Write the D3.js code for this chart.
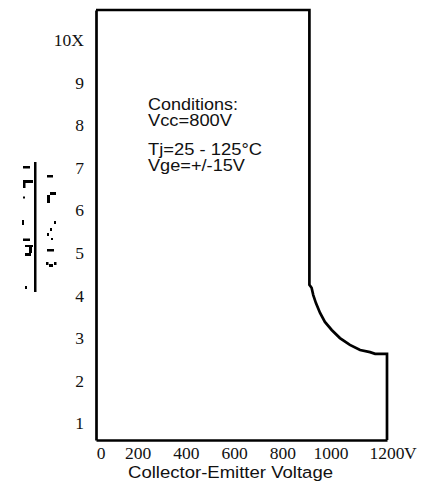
<!DOCTYPE html>
<html>
<head>
<meta charset="utf-8">
<script src="https://cdn.jsdelivr.net/npm/d3@7"></script>
<style>
  body { margin: 0; background: #fff; }
  svg { display: block; }
</style>
</head>
<body>
<div id="main"></div>
<script>

// safe operating area boundary
var voltage = [0, 880, 880, 889, 896, 907, 924, 944, 972, 1006, 1047, 1089, 1130, 1151, 1200, 1200];
var current = [10.7, 10.7, 4.25, 4.18, 4.01, 3.82, 3.59, 3.38, 3.19, 3.00, 2.84, 2.72, 2.67, 2.63, 2.63, 0.608];

var yTicks = [1, 2, 3, 4, 5, 6, 7, 8, 9, 10];
var xTicks = [0, 200, 400, 600, 800, 1000, 1200];

var conditions = ["Conditions:", "Vcc=800V", "Tj=25 - 125\u00B0C", "Vge=+/-15V"];

var w = 433;
var h = 491;

window.onload = function () {

  var svg = d3.select("#main").append("svg")
      .attr("width", w)
      .attr("height", h);

  // scales
  var x = d3.scaleLinear().domain([0, 1200]).range([96, 387]);
  var y = d3.scaleLinear().domain([0.608, 10.70]).range([440, 10]);
  // the middle tick labels sit a bit off the plot scale in the original
  var xLab = d3.scaleLinear().domain([200, 1000]).range([138, 331]);

  // y axis
  var yAxis = svg.append("g")
      .attr("transform", "translate(" + x(0) + ",0)")
      .call(d3.axisLeft(y)
        .tickValues(yTicks)
        .tickSize(0)
        .tickPadding(12)
        .tickFormat(function (d) { return d === 10 ? "10X" : d; }));
  yAxis.select(".domain").attr("stroke", "#000").attr("stroke-width", 2.7);
  yAxis.selectAll("text")
      .attr("font-family", "'Liberation Serif', 'Times New Roman', serif")
      .attr("font-size", 17.5)
      .attr("fill", "#111");

  // x axis line
  var xAxis = svg.append("g")
      .attr("transform", "translate(0," + y(0.608) + ")")
      .call(d3.axisBottom(x).tickValues([]).tickSizeOuter(0));
  xAxis.select(".domain").attr("stroke", "#000").attr("stroke-width", 2.7);

  // x tick labels
  var serif = "'Liberation Serif', 'Times New Roman', serif";
  svg.selectAll("text.xlab")
      .data(xTicks)
      .enter()
      .append("text")
      .attr("class", "xlab")
      .attr("x", function (d) {
        if (d === 0) return x(0) + 5;
        if (d === 1200) return x(1200);
        return xLab(d);
      })
      .attr("y", 458.5)
      .attr("text-anchor", "middle")
      .attr("font-family", serif)
      .attr("font-size", 17.5)
      .attr("fill", "#111")
      .text(function (d) { return d; });
  svg.append("text")
      .attr("x", x(1200) + 17)
      .attr("y", 458.5)
      .attr("font-family", serif)
      .attr("font-size", 17.5)
      .attr("fill", "#111")
      .text("V");

  // x axis title
  svg.append("text")
      .attr("x", 128)
      .attr("y", 478)
      .attr("font-family", "'Liberation Sans', Arial, sans-serif")
      .attr("font-size", 16.3)
      .attr("textLength", 205)
      .attr("lengthAdjust", "spacingAndGlyphs")
      .attr("fill", "#111")
      .text("Collector-Emitter Voltage");

  // boundary curve
  var pts = voltage.map(function (v, i) { return [v, current[i]]; });
  var line = d3.line()
      .x(function (d) { return x(d[0]); })
      .y(function (d) { return y(d[1]); });
  svg.append("path")
      .datum(pts)
      .attr("d", line)
      .attr("fill", "none")
      .attr("stroke", "#000")
      .attr("stroke-width", 2.7)
      .attr("stroke-linejoin", "miter");

  // conditions block
  var condY = [109.5, 126, 154.5, 171];
  var condLen = [90, 84, 114, 97];
  svg.selectAll("text.cond")
      .data(conditions)
      .enter()
      .append("text")
      .attr("class", "cond")
      .attr("x", 148)
      .attr("y", function (d, i) { return condY[i]; })
      .attr("font-family", "'Liberation Sans', Arial, sans-serif")
      .attr("font-size", 16.3)
      .attr("textLength", function (d, i) { return condLen[i]; })
      .attr("lengthAdjust", "spacingAndGlyphs")
      .attr("fill", "#111")
      .text(function (d) { return d; });

  // broken rotated y label as it appears in the original
  var junk = svg.append("g").attr("fill", "#000");
  junk.append("rect").attr("x", 34).attr("y", 162).attr("width", 2.5).attr("height", 130);
  var bits = [
    [23, 166, 7, 2.5], [23, 180, 10, 3], [23, 183, 2.5, 5], [23, 196.5, 2, 2],
    [22, 220, 2, 5], [23, 238.5, 7, 2.5], [25, 245, 8, 2], [29, 247, 3, 6],
    [25, 253, 6, 3], [25, 286, 2, 3],
    [47, 175, 6, 2.5], [50, 192, 6, 3], [47, 195, 3, 8], [54, 221, 2, 3],
    [50, 228, 2, 3], [47, 233, 2, 3], [51, 238, 2, 2], [47, 249, 7, 2.5],
    [46, 262, 2.5, 3], [49, 264, 4, 3], [54, 262, 2.5, 3]
  ];
  junk.selectAll("rect.bit")
      .data(bits)
      .enter()
      .append("rect")
      .attr("class", "bit")
      .attr("x", function (d) { return d[0]; })
      .attr("y", function (d) { return d[1]; })
      .attr("width", function (d) { return d[2]; })
      .attr("height", function (d) { return d[3]; });
};
</script>
</body>
</html>
